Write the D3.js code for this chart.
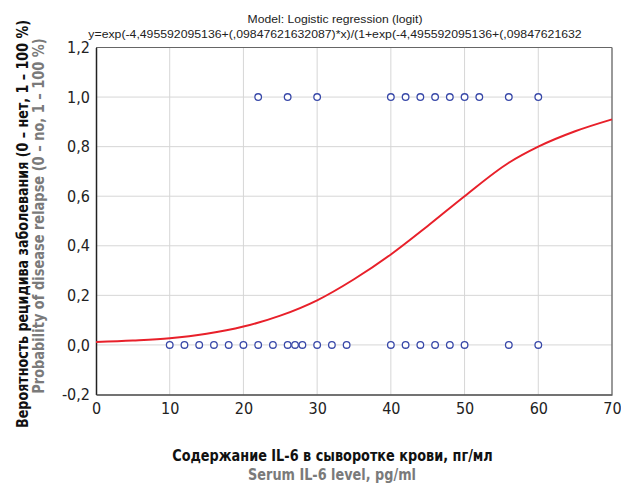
<!DOCTYPE html>
<html><head><meta charset="utf-8">
<script src="https://cdn.jsdelivr.net/npm/d3@7"></script>
<style>body{margin:0;background:#fff}svg{display:block}</style>
</head><body>
<script>
const xTicks = [0,10,20,30,40,50,60,70];
const yTicks = [-0.2,0,0.2,0.4,0.6,0.8,1.0,1.2];
const relapseX = [22,26,30,40,42,44,46,48,50,52,56,60];
const noRelapseX = [10,12,14,16,18,20,22,24,26,27,28,30,32,34,40,42,44,46,48,50,56,60];
const curveX = [0,5,10,15,20,25,30,35,40,45,50,56,60,65,70];
const curveY = [0.012,0.018,0.027,0.045,0.074,0.118,0.18,0.265,0.365,0.48,0.60,0.735,0.80,0.862,0.91];
const title1 = "Model: Logistic regression (logit)";
const title2 = "y=exp(-4,495592095136+(,09847621632087)*x)/(1+exp(-4,495592095136+(,09847621632";
const yTitleRu = "Вероятность рецидива заболевания (0 – нет, 1 – 100 %)";
const yTitleEn = "Probability of disease relapse (0 – no, 1 – 100 %)";
const xTitleRu = "Содержание IL-6 в сыворотке крови, пг/мл";
const xTitleEn = "Serum IL-6 level, pg/ml";

const W=621,H=484;
const L=96,R=612,T=47.5,B=394.5;
const narrow = "'Liberation Sans Narrow','Arial Narrow','DejaVu Sans Condensed',sans-serif";
const svg = d3.select("body").append("svg").attr("width",W).attr("height",H);
const x = d3.scaleLinear().domain([0,70]).range([L,R]);
const y = d3.scaleLinear().domain([-0.2,1.2]).range([B,T]);
const fmt = d => d3.format(".1f")(d).replace(".",",").replace("−","-");

// grid
svg.append("g").selectAll("line").data(xTicks.slice(1,-1)).join("line")
  .attr("x1",d=>x(d)).attr("x2",d=>x(d)).attr("y1",T).attr("y2",B)
  .attr("stroke","#d6d6d6").attr("stroke-width",1);
svg.append("g").selectAll("line").data(yTicks.slice(1,-1)).join("line")
  .attr("x1",L).attr("x2",R).attr("y1",d=>y(d)).attr("y2",d=>y(d))
  .attr("stroke","#d6d6d6").attr("stroke-width",1);

// frame
svg.append("line").attr("x1",L).attr("x2",R).attr("y1",T).attr("y2",T).attr("stroke","#666");
svg.append("line").attr("x1",R).attr("x2",R).attr("y1",T).attr("y2",B).attr("stroke","#777").attr("stroke-width",1.5);

// axes
const ya = svg.append("g").attr("transform",`translate(${L},0)`)
  .call(d3.axisLeft(y).tickValues(yTicks).tickSize(0).tickPadding(6).tickFormat(fmt));
ya.select(".domain").attr("stroke","#222").attr("stroke-width",1.5);
ya.selectAll("text").attr("font-family",narrow).attr("font-size",16).attr("fill","#222");
const xa = svg.append("g").attr("transform",`translate(0,${B})`)
  .call(d3.axisBottom(x).tickValues(xTicks).tickSize(0).tickPadding(8).tickFormat(d3.format("d")));
xa.select(".domain").attr("stroke","#444").attr("stroke-width",1.5);
xa.selectAll("text").attr("font-family",narrow).attr("font-size",16).attr("fill","#222");

// curve
const pts = curveX.map((d,i)=>[d,curveY[i]]);
svg.append("path").datum(pts)
  .attr("d",d3.line().x(d=>x(d[0])).y(d=>y(d[1])).curve(d3.curveMonotoneX))
  .attr("fill","none").attr("stroke","#e8202a").attr("stroke-width",2);

// points
svg.append("g").selectAll("circle").data(relapseX).join("circle")
  .attr("cx",d=>x(d)).attr("cy",y(1)).attr("r",3.3)
  .attr("fill","#fff").attr("stroke","#3848a8").attr("stroke-width",1.3);
svg.append("g").selectAll("circle").data(noRelapseX).join("circle")
  .attr("cx",d=>x(d)).attr("cy",y(0)).attr("r",3.3)
  .attr("fill","#fff").attr("stroke","#3848a8").attr("stroke-width",1.3);

// fitted text helper: scales along the baseline to reach a target width
function fitText(tx, ty, rot, str, width, family, size, weight, fill){
  const t = svg.append("text").attr("text-anchor","middle")
    .attr("font-family",family).attr("font-size",size).attr("font-weight",weight)
    .attr("fill",fill).text(str);
  const nat = t.node().getComputedTextLength();
  const s = width / nat;
  t.attr("transform",`translate(${tx},${ty}) rotate(${rot}) scale(${s},1)`);
  return t;
}
const reg = "'Liberation Sans',Arial,sans-serif";
fitText(335,23,0,title1,175,reg,11.5,"normal","#222");
fitText(335,38,0,title2,494,reg,11.5,"normal","#222");
fitText(28,224,-90,yTitleRu,408,narrow,16,"bold","#111");
fitText(44,216,-90,yTitleEn,356,narrow,16,"bold","#7a7a7a");
fitText(332.5,461,0,xTitleRu,321,narrow,16,"bold","#111");
fitText(332,480,0,xTitleEn,168,narrow,16,"bold","#7a7a7a");
</script>
</body></html>
